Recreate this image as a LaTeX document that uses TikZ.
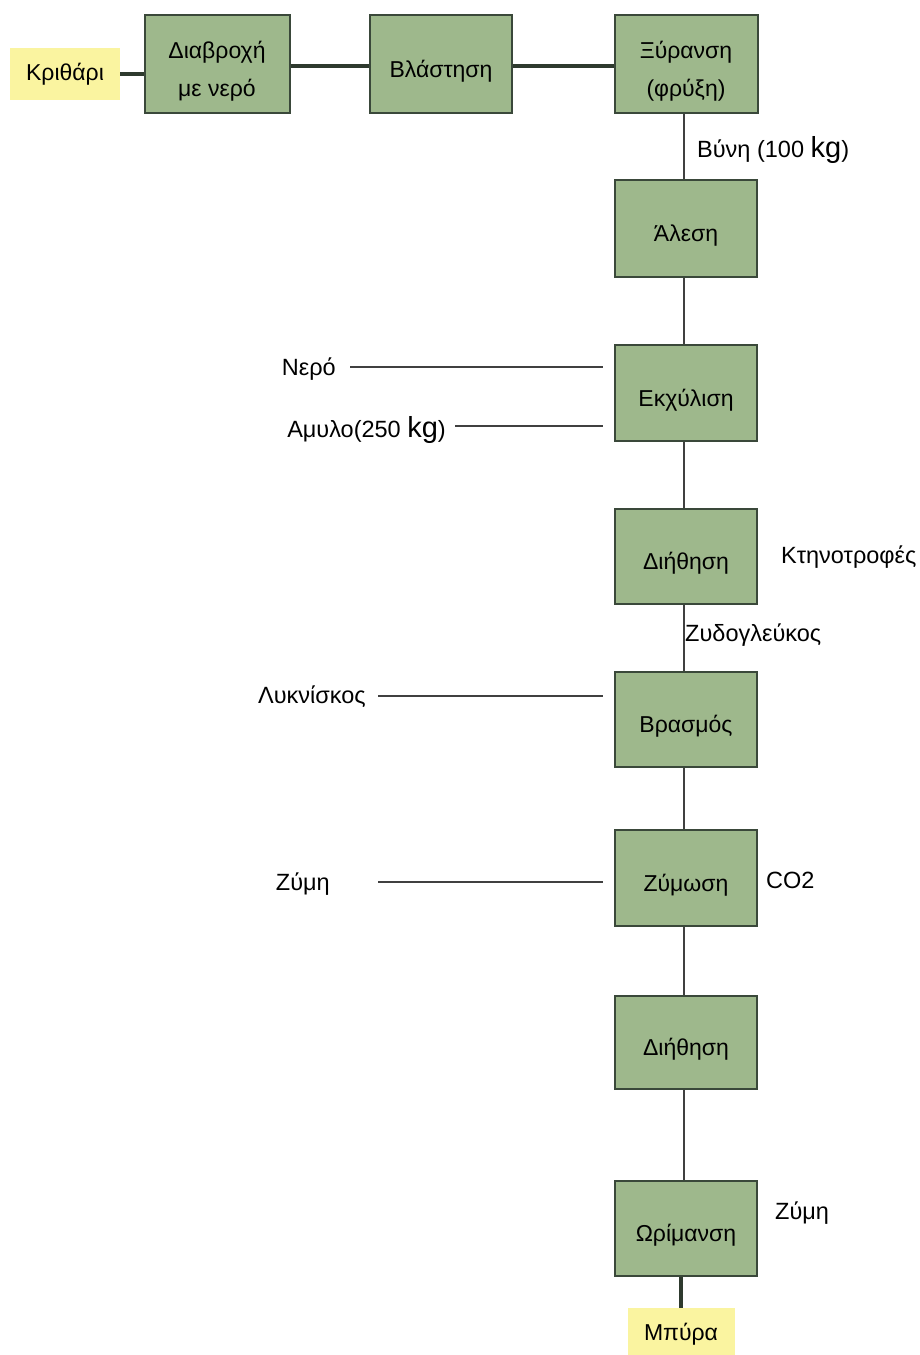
\documentclass[tikz,border=0pt]{standalone}
\usepackage{fontspec}
\setmainfont{Liberation Sans}
\definecolor{boxfill}{RGB}{158,184,140}
\definecolor{boxline}{RGB}{58,72,58}
\definecolor{yel}{RGB}{250,244,160}
\newcommand{\lowtxt}[1]{\raisebox{-6pt}[\height][\depth]{\begin{tabular}{@{}c@{}}#1\end{tabular}}}
\begin{document}
\begin{tikzpicture}[x=1pt,y=-1pt,
  proc/.style={draw=boxline,line width=2pt,fill=boxfill,minimum width=142pt,minimum height=96pt,inner sep=0pt,align=center,font=\fontsize{23}{38}\selectfont},
  endbox/.style={fill=yel,inner sep=0pt,align=center,font=\fontsize{23}{27}\selectfont},
  lbl/.style={inner sep=0pt,font=\fontsize{23.5}{27}\selectfont},
  thick line/.style={draw=boxline!80!black,line width=3.5pt},
  thin line/.style={draw=black!75,line width=1.3pt}]
\useasboundingbox (0,0) rectangle (920,1355);
\fill[white] (0,0) rectangle (920,1355);
% top row
\node[endbox,minimum width=110pt,minimum height=52pt] (krith) at (65,74) {Κριθάρι};
\node[proc,minimum width=145pt,minimum height=98pt] (diavr) at (217,64) {\lowtxt{Διαβροχή\\με νερό}};
\node[proc,minimum height=98pt] (vlast) at (441,64) {\lowtxt{Βλάστηση}};
\node[proc,minimum width=143pt,minimum height=98pt] (xyr) at (686,64) {\lowtxt{Ξύρανση\\(φρύξη)}};
% column
\node[proc,minimum height=97pt] (ales) at (686,228) {\lowtxt{Άλεση}};
\node[proc] (ekx) at (686,393) {\lowtxt{Εκχύλιση}};
\node[proc,minimum height=95pt] (dih1) at (686,556) {\lowtxt{Διήθηση}};
\node[proc,minimum height=95pt] (vras) at (686,719) {\lowtxt{Βρασμός}};
\node[proc] (zym) at (686,878) {\lowtxt{Ζύμωση}};
\node[proc,minimum height=93pt] (dih2) at (686,1042) {\lowtxt{Διήθηση}};
\node[proc,minimum height=95pt] (orim) at (686,1228) {\lowtxt{Ωρίμανση}};
\node[endbox,minimum width=107pt,minimum height=52pt] (bira) at (681,1334) {Μπύρα};
% connectors
\draw[thick line] (krith.east) -- (diavr.west |- krith.east);
\draw[thick line] ([yshift=-2pt]diavr.east) -- ([yshift=-2pt]vlast.west);
\draw[thick line] ([yshift=-2pt]vlast.east) -- ([yshift=-2pt]xyr.west);
\draw[thin line] ([xshift=-2pt]xyr.south) -- ([xshift=-2pt]ales.north);
\draw[thin line] ([xshift=-2pt]ales.south) -- ([xshift=-2pt]ekx.north);
\draw[thin line] ([xshift=-2pt]ekx.south) -- ([xshift=-2pt]dih1.north);
\draw[thin line] ([xshift=-2pt]dih1.south) -- ([xshift=-2pt]vras.north);
\draw[thin line] ([xshift=-2pt]vras.south) -- ([xshift=-2pt]zym.north);
\draw[thin line] ([xshift=-2pt]zym.south) -- ([xshift=-2pt]dih2.north);
\draw[thin line] ([xshift=-2pt]dih2.south) -- ([xshift=-2pt]orim.north);
\draw[thick line] (bira.north |- orim.south) -- (bira.north);
% side labels
\node[lbl,anchor=west] (vyni) at (697,150) {Βύνη (100 {\fontsize{29}{30}\selectfont kg})};
\node[lbl,anchor=east] (nero) at (336,369) {Νερό};
\node[lbl,anchor=east] (amylo) at (446,430) {Αμυλο(250 {\fontsize{29}{30}\selectfont kg})};
\node[lbl,anchor=west] (ktin) at (781,557) {Κτηνοτροφές};
\node[lbl,anchor=west] (zyd) at (685,635) {Ζυδογλεύκος};
\node[lbl,anchor=east] (lykn) at (366,697) {Λυκνίσκος};
\node[lbl,anchor=east] (zymi1) at (330,884) {Ζύμη};
\node[lbl,anchor=west] (co2) at (766,880) {CO2};
\node[lbl,anchor=west] (zymi2) at (775,1213) {Ζύμη};
% feed lines
\coordinate (nE) at (603,367);
\coordinate (aE) at (603,426);
\coordinate (lE) at (603,696);
\coordinate (zE) at (603,882);
\draw[thin line] ([xshift=14pt]nero.east |- nE) -- (nE);
\draw[thin line] ([xshift=9pt]amylo.east |- aE) -- (aE);
\draw[thin line] ([xshift=12pt]lykn.east |- lE) -- (lE);
\draw[thin line] ([xshift=48pt]zymi1.east |- zE) -- (zE);
\end{tikzpicture}
\end{document}
